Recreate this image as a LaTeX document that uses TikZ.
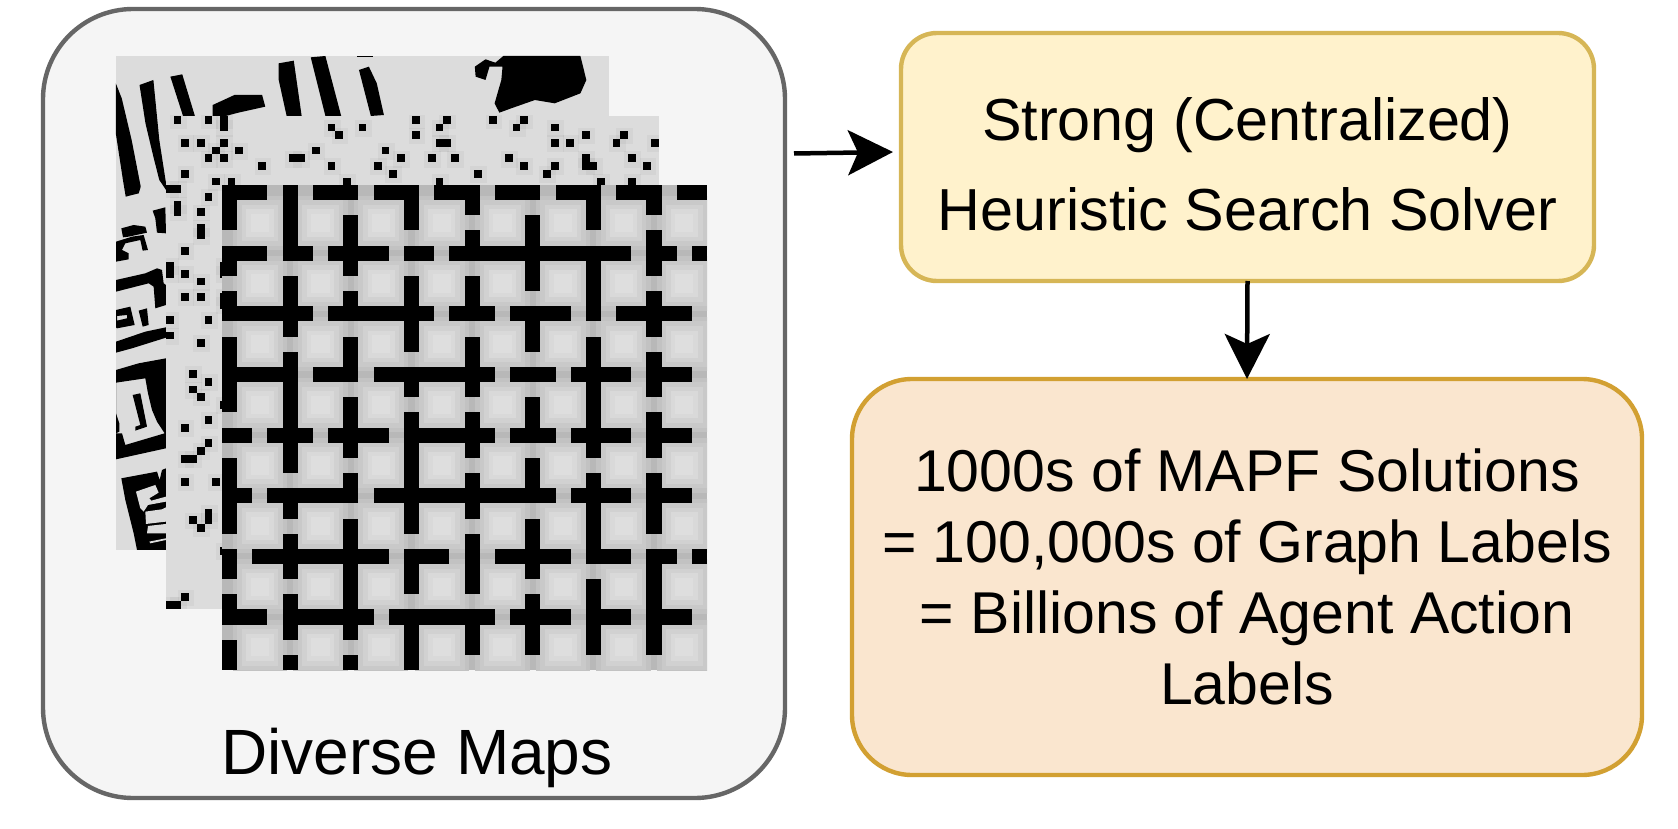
\documentclass[tikz,border=0pt]{standalone}
\usepackage{fontspec}
\setmainfont{Liberation Sans}
\usetikzlibrary{positioning,arrows.meta}
\definecolor{mapsfill}{HTML}{F5F5F5}
\definecolor{mapsline}{HTML}{666666}
\definecolor{solverfill}{HTML}{FFF2CC}
\definecolor{solverline}{HTML}{D6B656}
\definecolor{labelfill}{HTML}{FAE6CF}
\definecolor{labelline}{HTML}{D2A032}
\definecolor{mapback}{HTML}{DCDCDC}
\newcommand{\dotcells}{0/{1,5,7,32,36,42,46},1/{7,21,25,35,45,50},2/{22,32,54,59},
  3/{2,4,7,35,36,50,52,58,63},4/{6,9,19,28},5/{5,7,16,17,30,34,37,44,54,60},
  6/{12,21,27,46,50,54,55,62},7/{2,29,40,49},8/{6,8,23,35,56,60},9/{0,1},
  10/{5},11/{1},12/{1,4},14/{4},15/{4},17/{2},19/{0,7},20/{0,2,7},21/{4},
  23/{2,4,7},24/{7},26/{0,5},28/{0},29/{4},33/{3},34/{5},35/{3},36/{4},37/{7},
  39/{5},40/{2},42/{5},43/{4},44/{2,3},47/{2,6},51/{5},52/{3,5},53/{4},56/{7},
  62/{2},63/{0,1}}

\begin{document}
\begin{tikzpicture}[x=1pt,y=-1pt,
  every node/.style={outer sep=0pt,inner sep=0pt,align=center},
  panel/.style={draw, rectangle, line width=4.4pt},
  txt/.style={font=\fontsize{59.3}{90}\selectfont},
  flow/.style={-{Stealth[length=45pt,width=45pt,inset=10pt]}, line width=4.5pt}]
\useasboundingbox (0,0) rectangle (1678,829);
\node[panel, fill=mapsfill, draw=mapsline, rounded corners=90pt, minimum width=742pt, minimum height=789pt] (maps) at (414,403.5) {};

% back map, traced in zoomed coordinates
\begin{scope}[shift={(100,40)},x=0.3954pt,y=-0.3333pt]
\fill[mapback] (40,48) rectangle (1287,1529);
\fill (40,130)--(55,175)--(80,300)--(103,440)--(98,460)--(65,470)--(58,420)--(40,280)--cycle;
\fill (100,135)--(135,120)--(140,180)--(150,300)--(167,430)--(167,450)--(150,420)--(135,350)--(115,250)--cycle;
\fill (178,110)--(208,103)--(240,228)--(210,228)--cycle;
\fill (285,195)--(340,165)--(410,165)--(418,200)--(350,218)--(318,228)--(285,228)--cycle;
\fill (452,70)--(490,62)--(510,228)--(472,228)--(452,120)--cycle;
\fill (533,52)--(570,48)--(610,228)--(570,228)--cycle;
\fill (655,90)--(680,80)--(700,130)--(718,225)--(685,228)--cycle;
\fill (650,48) rectangle (690,52);
\fill (1020,48)--(1215,48)--(1230,120)--(1215,160)--(1150,190)--(1100,180)--(1040,205)--(1010,218)--(998,190)--(1015,120)--(1018,80)--(985,80)--(975,120)--(950,110)--(948,80)--(975,58)--(1000,68)--cycle;
\end{scope}
% its left strip
\begin{scope}[shift={(112,190)},x=0.3333pt,y=-0.3333pt]
\fill (122,62)--(160,52)--(162,130)--(135,128)--(130,85)--cycle;
\fill (28,115)--(65,105)--(100,110)--(105,128)--(50,140)--(33,142)--cycle;
\fill (12,155)--(60,140)--(95,135)--(108,180)--(92,182)--(85,150)--(40,160)--(30,180)--(50,190)--(50,208)--(12,215)--cycle;
\fill (12,270)--(100,250)--(135,235)--(150,240)--(155,280)--(162,285)--(162,345)--(130,355)--(125,290)--(110,280)--(12,305)--cycle;
\fill[even odd rule] (12,360)--(55,350)--(68,405)--(15,415)--(12,412)--cycle (15,378)--(45,375)--(45,385)--(15,392)--cycle;
\fill (80,362)--(105,355)--(110,405)--(92,410)--cycle;
\fill (12,455)--(100,425)--(162,412)--(162,443)--(60,475)--(12,488)--cycle;
\fill[even odd rule] (12,540)--(80,520)--(162,505)--(162,775)--(12,808)--cycle
  (12,578)--(100,565)--(108,610)--(120,660)--(135,695)--(158,730)--(40,765)--(30,730)--(12,730)--cycle;
\fill (62,615)--(85,610)--(105,710)--(70,722)--(70,710)--(85,705)--cycle;
\fill (12,670)--(22,700)--(22,725)--(12,730)--cycle;
\fill (28,865)--(135,845)--(143,870)--(150,840)--(162,835)--(162,1080)--(75,1080)--(65,1030)--(40,930)--cycle;
\fill[mapback] (72,905)--(130,885)--(140,908)--(112,925)--(118,932)--(162,920)--(162,935)--(108,945)--(95,965)--(85,955)--cycle;
\fill[mapback] (100,965)--(150,958)--(162,952)--(162,995)--(102,1002)--cycle;
\fill[mapback] (108,1008)--(162,1002)--(162,1030)--(105,1030)--cycle;
\fill[mapback] (112,1055)--(162,1045)--(162,1050)--(115,1060)--cycle;
\end{scope}

% middle map, 64 x 64 cells
\begin{scope}[shift={(166,116)},x=7.7pt,y=-7.7pt]
\clip (0,0) rectangle (64,64);
\fill[mapback] (0,0) rectangle (64,64);
\foreach \r/\cols in \dotcells
  \foreach \c in \cols
    \fill[opacity=.035] (\c-.5,\r-.5) rectangle (\c+1.7,\r+1.7);
\foreach \r/\cols in \dotcells
  \foreach \c in \cols
    \fill (\c,\r) rectangle (\c+1,\r+1);
\end{scope}

% front map, 32 x 32 cells
\begin{scope}[shift={(222,185)},x=15.16pt,y=-15.16pt]
\clip (0,0) rectangle (32,32);
\fill[black!28] (0,0) rectangle (32,32);
\foreach \i in {0,...,7}
  \foreach \j in {0,...,7}
    \foreach \w/\g in {1.8/24,1.5/21,1.2/18,.9/15,.6/13} {
      \fill[black!\g] (4*\i+2.5-\w,4*\j+2.5-\w) rectangle (4*\i+2.5+\w,4*\j+2.5+\w);
    }
\foreach \c/\runs in {0/{0/2,4/5,7/8,10/14,16/16,18/22,24/25,27/28,30/31},
  4/{0/4,6/9,11/18,20/21,23/25,27/29,31/31},
  8/{0/0,2/5,7/8,10/12,14/17,19/20,22/29,31/31},
  12/{0/2,4/4,6/10,12/13,15/22,24/26,28/31},
  16/{0/1,3/4,6/8,10/13,15/17,19/21,23/26,28/30},
  20/{0/0,2/6,8/10,12/12,14/16,18/20,22/25,27/30},
  24/{0/2,4/8,10/17,19/24,26/30},
  28/{0/1,3/5,7/9,11/13,15/17,19/22,24/30}}
  \foreach \a/\b in \runs
    \fill (\c,\a) rectangle (\c+1,\b+1);
\foreach \r/\runs in {0/{0/2,6/8,10/12,14/16,18/20,22/24,26/28,30/31},
  4/{0/2,4/5,7/10,12/13,15/26,28/29,31/31},
  8/{0/5,7/13,15/17,19/22,26/30},
  12/{0/4,6/8,10/17,19/21,23/26,28/30},
  16/{0/1,3/5,7/10,12/17,19/21,23/26,28/30},
  20/{0/1,3/8,10/21,23/26,28/30},
  24/{2/10,12/14,18/22,24/26,28/29,31/31},
  28/{0/2,4/9,11/17,19/22,24/26,28/30}}
  \foreach \a/\b in \runs
    \fill (\a,\r) rectangle (\b+1,\r+1);
\end{scope}

\node[font=\fontsize{64}{70}\selectfont] (mapstext) at (417,758) {Diverse Maps};

\node[panel, fill=solverfill, draw=solverline, rounded corners=36pt, minimum width=693pt, minimum height=248pt] (solver) at (1247.5,157) {};
\node[txt] (solvertext) at (1247.5,164) {Strong (Centralized)\\Heuristic Search Solver};

\node[panel, fill=labelfill, draw=labelline, rounded corners=60pt, minimum width=790pt, minimum height=396pt, txt, font=\fontsize{59}{71}\selectfont] (labels) at (1247,577) {1000s of MAPF Solutions\\= 100,000s of Graph Labels\\= Billions of Agent Action\\Labels};

\coordinate (mapsout) at (794,153.5);
\coordinate (solverin) at (893,152);
\draw[flow] (mapsout) -- (solverin);
\draw[flow] (solver.south) -- (labels.north);
\end{tikzpicture}
\end{document}
